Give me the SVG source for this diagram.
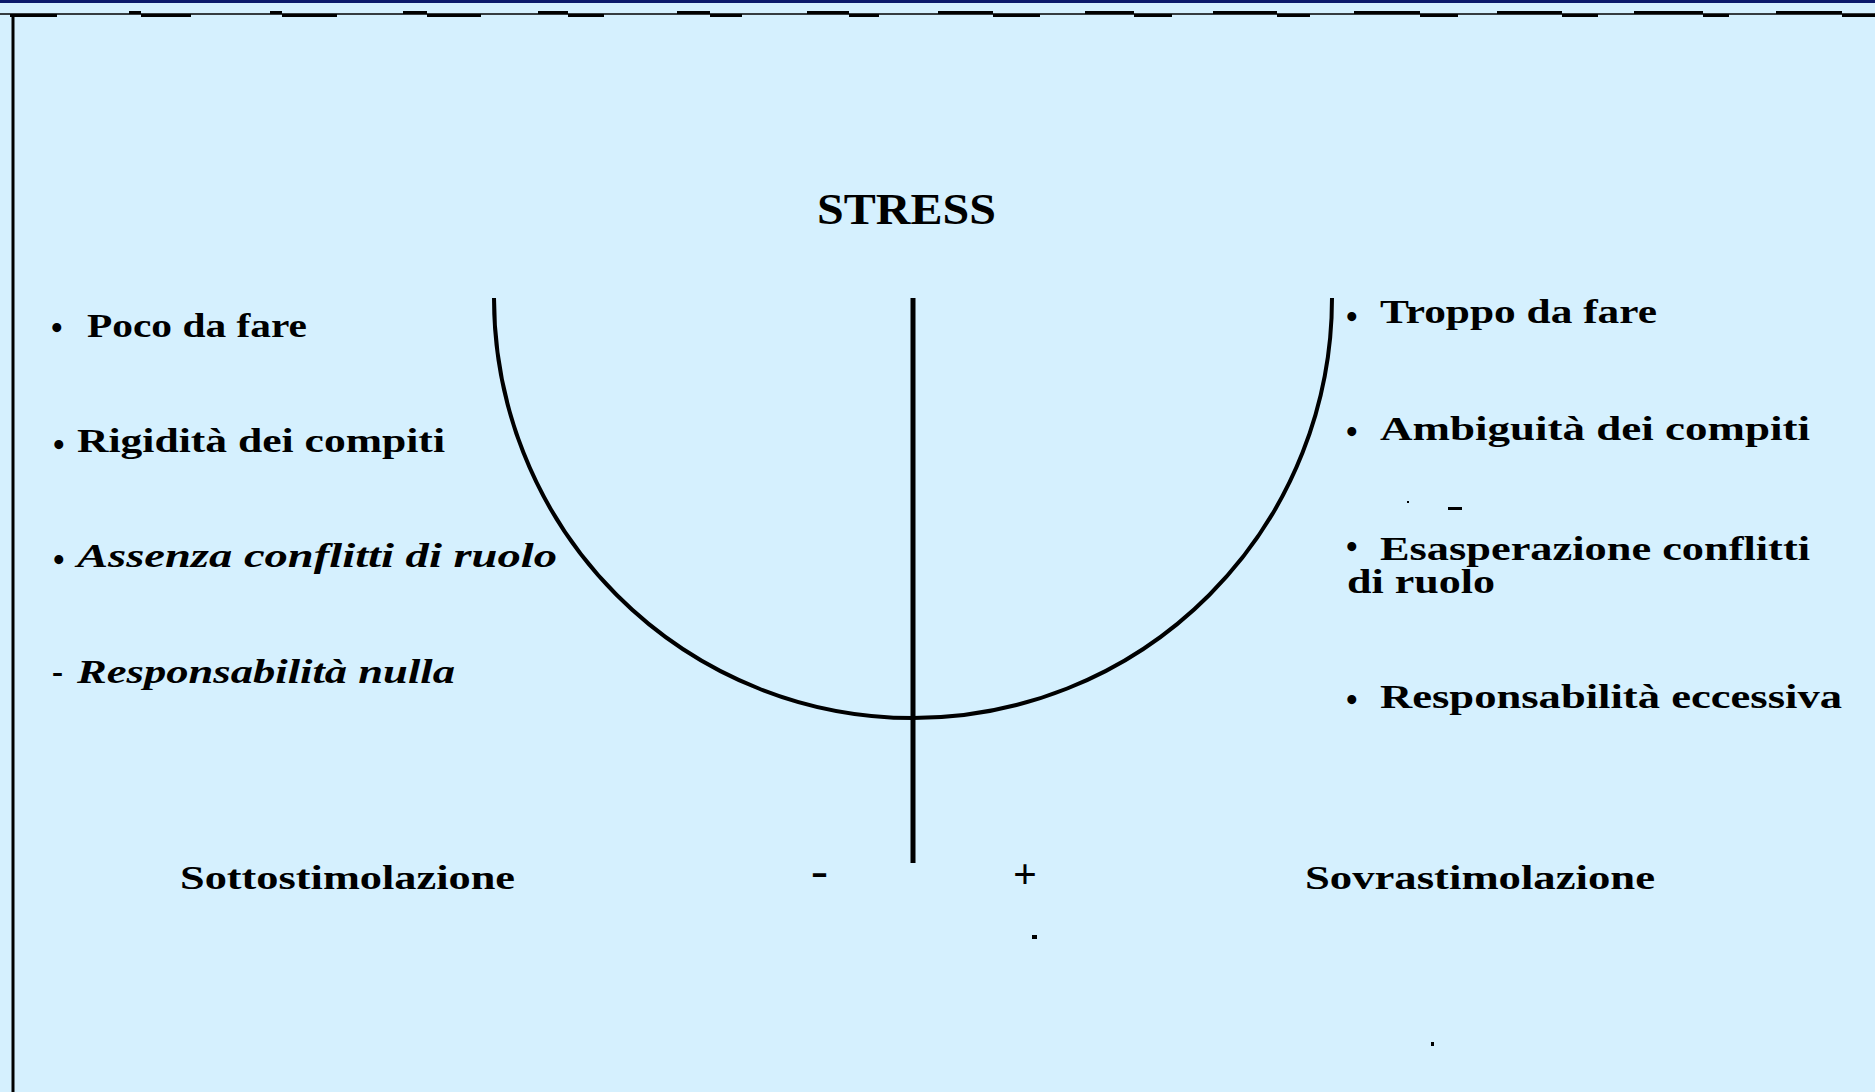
<svg xmlns="http://www.w3.org/2000/svg" width="1875" height="1092" viewBox="0 0 1875 1092">
<style>
  .t { font-family: "Liberation Serif", "DejaVu Serif", serif; font-weight: bold; fill: #000; }
  .it { font-style: italic; }
  .item { font-size: 33px; }
  .bul { font-size: 33px; }
  .ink { fill: #000; }
  .line { stroke: #000; fill: none; }
</style>
<rect x="0" y="0" width="1875" height="1092" fill="#d5f0fe"/>
<rect x="0" y="0" width="1875" height="3" fill="#0b1a6b"/>

<g id="frame">
  <line class="line" x1="0" y1="14" x2="1875" y2="14" stroke-width="1.5"/>
  <g class="ink">
    <rect x="129" y="11" width="12" height="3"/><rect x="270" y="11" width="12" height="3"/>
    <rect x="403" y="11" width="24" height="3"/><rect x="538" y="11" width="30" height="3"/>
    <rect x="677" y="11" width="33" height="3"/><rect x="807" y="11" width="42" height="3"/>
    <rect x="938" y="11" width="55" height="3"/><rect x="1085" y="11" width="49" height="3"/>
    <rect x="1213" y="11" width="64" height="3"/><rect x="1354" y="11" width="66" height="3"/>
    <rect x="1497" y="11" width="65" height="3"/><rect x="1634" y="11" width="69" height="3"/>
    <rect x="1776" y="11" width="66" height="3"/>
    <rect x="10" y="14" width="47" height="3"/><rect x="141" y="14" width="50" height="3"/>
    <rect x="282" y="14" width="55" height="3"/><rect x="427" y="14" width="54" height="3"/>
    <rect x="568" y="14" width="36" height="3"/><rect x="710" y="14" width="32" height="3"/>
    <rect x="849" y="14" width="30" height="3"/><rect x="993" y="14" width="47" height="3"/>
    <rect x="1134" y="14" width="38" height="3"/><rect x="1277" y="14" width="33" height="3"/>
    <rect x="1420" y="14" width="38" height="3"/><rect x="1562" y="14" width="36" height="3"/>
    <rect x="1703" y="14" width="26" height="3"/><rect x="1842" y="14" width="33" height="3"/>
  </g>
  <line class="line" x1="13" y1="14" x2="13" y2="1092" stroke-width="3"/>
</g>

<g id="title">
  <text class="t" x="817" y="224" font-size="44" textLength="179" lengthAdjust="spacingAndGlyphs">STRESS</text>
</g>

<g id="connectors">
  <path id="u-curve" class="line" d="M 494 298 A 419 420 0 0 0 1332 298" stroke-width="4"/>
  <line id="axis" class="line" x1="913" y1="298" x2="913" y2="863" stroke-width="5"/>
</g>

<g id="left-list">
  <g id="item-poco">
    <text class="t bul" x="51" y="339">•</text>
    <text class="t item" x="87" y="337" textLength="220" lengthAdjust="spacingAndGlyphs">Poco da fare</text>
  </g>
  <g id="item-rigidita">
    <text class="t bul" x="53" y="456">•</text>
    <text class="t item" x="77" y="452" textLength="368" lengthAdjust="spacingAndGlyphs">Rigidità dei compiti</text>
  </g>
  <g id="item-assenza">
    <text class="t bul" x="53" y="571">•</text>
    <text class="t item it" x="77" y="567" textLength="480" lengthAdjust="spacingAndGlyphs">Assenza  conflitti di ruolo</text>
  </g>
  <g id="item-resp-nulla">
    <text class="t item" x="52" y="683">-</text>
    <text class="t item it" x="77" y="683" textLength="378" lengthAdjust="spacingAndGlyphs">Responsabilità nulla</text>
  </g>
</g>

<g id="right-list">
  <g id="item-troppo">
    <text class="t bul" x="1346" y="328">•</text>
    <text class="t item" x="1380" y="323" textLength="277" lengthAdjust="spacingAndGlyphs">Troppo da fare</text>
  </g>
  <g id="item-ambiguita">
    <text class="t bul" x="1346" y="443">•</text>
    <text class="t item" x="1380" y="440" textLength="430" lengthAdjust="spacingAndGlyphs">Ambiguità dei compiti</text>
  </g>
  <g id="item-esasperazione">
    <text class="t bul" x="1346" y="558">•</text>
    <text class="t item" x="1380" y="560" textLength="430" lengthAdjust="spacingAndGlyphs">Esasperazione conflitti</text>
    <text class="t item" x="1347" y="593" textLength="148" lengthAdjust="spacingAndGlyphs">di ruolo</text>
  </g>
  <g id="item-resp-eccessiva">
    <text class="t bul" x="1346" y="711">•</text>
    <text class="t item" x="1380" y="708" textLength="462" lengthAdjust="spacingAndGlyphs">Responsabilità eccessiva</text>
  </g>
</g>

<g id="axis-labels">
  <text class="t" x="180" y="889" font-size="33" textLength="335" lengthAdjust="spacingAndGlyphs">Sottostimolazione</text>
  <text class="t" x="811" y="886" font-size="44" textLength="17" lengthAdjust="spacingAndGlyphs">-</text>
  <text class="t" x="1013" y="888" font-size="42">+</text>
  <text class="t" x="1305" y="889" font-size="33" textLength="350" lengthAdjust="spacingAndGlyphs">Sovrastimolazione</text>
</g>

<g id="specks" class="ink">
  <rect x="1407" y="501" width="2" height="2"/>
  <rect x="1448" y="507" width="14" height="3"/>
  <rect x="1032" y="935" width="5" height="4"/>
  <rect x="1431" y="1042" width="3" height="4"/>
</g>
</svg>
